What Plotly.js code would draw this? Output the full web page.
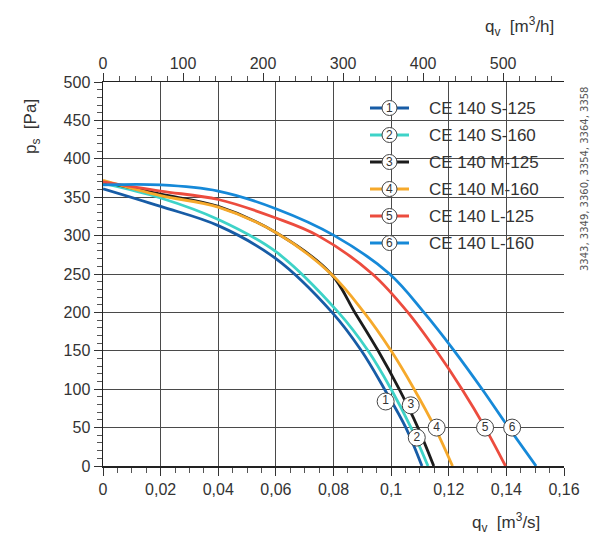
<!DOCTYPE html>
<html>
<head>
<meta charset="utf-8">
<script src="https://cdn.plot.ly/plotly-3.0.1.min.js"></script>
<style>html,body{margin:0;padding:0;background:#fff;}#chart{width:612px;height:545px;}</style>
</head>
<body>
<div id="chart"></div>
<script>
// ---- data (q in m3/s, p in Pa) ----
const names = ["CE 140 S-125", "CE 140 S-160", "CE 140 M-125", "CE 140 M-160", "CE 140 L-125", "CE 140 L-160"];
const labelNums = ["1", "2", "3", "4", "5", "6"];
const q1 = [0, 0.02, 0.04, 0.06, 0.0795, 0.0897, 0.0977, 0.1051, 0.1107];
const p1 = [361, 338, 313, 270, 200, 150, 100, 50, 0];
const q2 = [0, 0.02, 0.04, 0.06, 0.0817, 0.092, 0.1, 0.1069, 0.1128];
const p2 = [368, 349, 321, 279, 200, 150, 100, 50, 0];
const q3 = [0, 0.02, 0.04, 0.06, 0.0792, 0.0874, 0.0955, 0.1028, 0.1093, 0.1148];
const p3 = [370, 354, 338, 304, 250, 200, 150, 100, 50, 0];
const q4 = [0, 0.02, 0.04, 0.06, 0.0792, 0.0906, 0.1, 0.108, 0.1152, 0.1213];
const p4 = [372, 352, 337, 304, 250, 200, 150, 100, 50, 0];
const q5 = [0, 0.02, 0.04, 0.06, 0.0746, 0.0935, 0.1058, 0.1157, 0.1246, 0.1326, 0.1397];
const p5 = [370, 358, 347, 323, 300, 250, 200, 150, 100, 50, 0];
const q6 = [0, 0.02, 0.04, 0.06, 0.0803, 0.0995, 0.1114, 0.1219, 0.1316, 0.1408, 0.1503];
const p6 = [366, 366, 358, 335, 300, 250, 200, 150, 100, 50, 0];
// numbered markers on curves
const markQ = [0.0981, 0.1089, 0.1068, 0.1158, 0.1326, 0.1420];
const markP = [84, 37, 79, 50, 50, 50];
// axis ranges
const qMax = 0.16;          // m3/s
const qMaxH = qMax * 3600;  // m3/h on top axis
const pMax = 500;
const sideNote = "3343, 3349, 3360, 3354, 3364, 3358";

const colors = ["#175ca6", "#3ed3c8", "#1c1c1c", "#f6a92b", "#ec4c3e", "#1689d8"];
const qs = [q1, q2, q3, q4, q5, q6];
const ps = [p1, p2, p3, p4, p5, p6];

const traces = qs.map((q, i) => ({
  x: q, y: ps[i], type: 'scatter', mode: 'lines', name: names[i],
  line: {color: colors[i], width: 2.8, shape: 'spline', smoothing: 1},
  hoverinfo: 'skip', showlegend: false
}));
traces.push({
  x: markQ, y: markP, type: 'scatter', mode: 'markers+text', text: labelNums,
  textposition: 'middle center', textfont: {family: 'Liberation Sans, Arial', size: 12, color: '#333'},
  marker: {size: 17, color: '#fff', line: {color: '#444', width: 1}},
  showlegend: false, hoverinfo: 'skip', cliponaxis: false
});
// invisible trace to activate top axis
traces.push({x: [0, qMaxH], y: [0, 0], xaxis: 'x2', yaxis: 'y', type: 'scatter', mode: 'lines',
  line: {width: 0}, opacity: 0, showlegend: false, hoverinfo: 'skip'});

const L = 103, R = 48, T = 82, B = 79, W = 612, H = 545;
const pw = W - L - R, ph = H - T - B;
const px2x = px => (px - L) / pw;
const py2y = py => (H - B - py) / ph;

const shapes = [];
const annotations = [];
// legend background (covers grid)
shapes.push({type: 'rect', xref: 'paper', yref: 'paper', layer: 'between',
  x0: px2x(358), x1: px2x(548), y0: py2y(256), y1: py2y(84),
  fillcolor: '#fff', line: {width: 0}});
names.forEach((n, i) => {
  const yy = py2y(108 + 27 * i);
  shapes.push({type: 'line', xref: 'paper', yref: 'paper', x0: px2x(370), x1: px2x(409), y0: yy, y1: yy,
    line: {color: colors[i], width: 2.8}});
  shapes.push({type: 'circle', xref: 'paper', yref: 'paper', xsizemode: 'pixel', ysizemode: 'pixel',
    xanchor: px2x(389.5), yanchor: yy, x0: -7.5, x1: 7.5, y0: -7.5, y1: 7.5,
    fillcolor: '#fff', line: {color: '#444', width: 1}});
  annotations.push({xref: 'paper', yref: 'paper', x: px2x(389.5), y: yy, text: labelNums[i], showarrow: false,
    xanchor: 'center', yanchor: 'middle', font: {family: 'Liberation Sans, Arial', size: 12, color: '#333'}});
  annotations.push({xref: 'paper', yref: 'paper', x: px2x(427), y: yy, text: n, showarrow: false,
    xanchor: 'left', yanchor: 'middle', font: {family: 'Liberation Sans, Arial', size: 17, color: '#333'}});
});
// axis titles
annotations.push({xref: 'paper', yref: 'paper', x: px2x(506), y: py2y(522), text: 'q<sub>v</sub>  [m<sup>3</sup>/s]',
  showarrow: false, xanchor: 'center', yanchor: 'middle', font: {family: 'Liberation Sans, Arial', size: 17, color: '#333'}});
annotations.push({xref: 'paper', yref: 'paper', x: px2x(519), y: py2y(27), text: 'q<sub>v</sub>  [m<sup>3</sup>/h]',
  showarrow: false, xanchor: 'center', yanchor: 'middle', font: {family: 'Liberation Sans, Arial', size: 17, color: '#333'}});
annotations.push({xref: 'paper', yref: 'paper', x: px2x(32), y: py2y(127), text: 'p<sub>s</sub>  [Pa]', textangle: -90,
  showarrow: false, xanchor: 'center', yanchor: 'middle', font: {family: 'Liberation Sans, Arial', size: 17, color: '#333'}});
annotations.push({xref: 'paper', yref: 'paper', x: px2x(584), y: py2y(179), text: sideNote, textangle: -90,
  showarrow: false, xanchor: 'center', yanchor: 'middle', font: {family: 'DejaVu Sans', size: 10, color: '#555'}});

const tickFont = {family: 'Liberation Sans, Arial', size: 16, color: '#333'};
const layout = {
  width: W, height: H, margin: {l: L, r: R, t: T, b: B}, paper_bgcolor: '#fff', plot_bgcolor: '#fff',
  separators: ', ', showlegend: false,
  xaxis: {range: [0, qMax], dtick: 0.02, tick0: 0, showgrid: true, gridcolor: '#4a4a4a', gridwidth: 1,
    zeroline: false, showline: true, linecolor: '#222', linewidth: 1.5, ticks: 'outside', ticklen: 8,
    tickcolor: '#333', tickwidth: 1, tickfont: tickFont,
    minor: {dtick: 0.005, ticks: 'outside', ticklen: 5, tickcolor: '#555', showgrid: false}},
  xaxis2: {range: [0, qMaxH], overlaying: 'x', side: 'top', anchor: 'y', dtick: 100, tick0: 0, showgrid: false,
    zeroline: false, showline: true, linecolor: '#222', linewidth: 1.5, ticks: 'outside', ticklen: 8,
    tickcolor: '#333', tickwidth: 1, tickfont: tickFont, ticklabelstandoff: -3,
    minor: {dtick: 20, ticks: 'outside', ticklen: 5, tickcolor: '#555', showgrid: false}},
  yaxis: {range: [0, pMax], dtick: 50, tick0: 0, showgrid: true, gridcolor: '#4a4a4a', gridwidth: 1,
    zeroline: false, showline: true, linecolor: '#222', linewidth: 1.5, ticks: 'outside', ticklen: 8,
    tickcolor: '#333', tickwidth: 1, tickfont: tickFont,
    minor: {dtick: 10, ticks: 'outside', ticklen: 5, tickcolor: '#555', showgrid: false}},
  shapes: shapes, annotations: annotations
};
Plotly.newPlot('chart', traces, layout, {staticPlot: true});
</script>
</body>
</html>
